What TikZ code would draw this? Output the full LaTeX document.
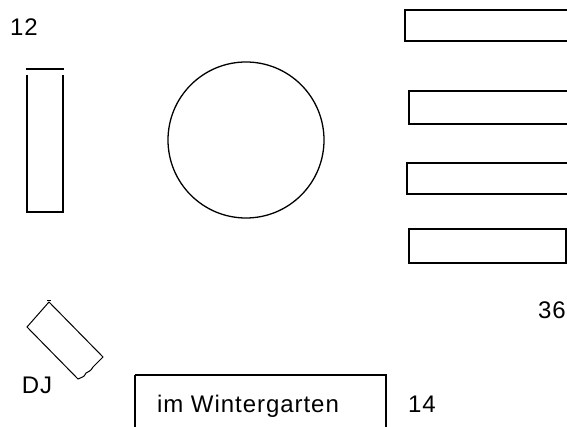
\documentclass[tikz,border=0pt]{standalone}
\usepackage{fontspec}
\setmainfont{Liberation Sans}[LetterSpace=4]
\begin{document}
\begin{tikzpicture}[x=1pt,y=-1pt,line width=1.3pt,
  lbl/.style={inner sep=0pt,font=\fontsize{24}{26}\selectfont}]
\useasboundingbox (0,0) rectangle (567,427);
\clip (0,0) rectangle (567,427);
% label 12
\node[lbl] (n12) at (24,27) {12};
% tall left table with detached top edge
\coordinate (lt1) at (26,69);
\coordinate (lt2) at (64,69);
\draw (lt1) -- (lt2);
\draw (27,75) -- (27,212) -- (63,212) -- (63,75);
% round table
\node[draw,circle,minimum size=156pt,inner sep=0pt] (round) at (246,140) {};
% right tables
\draw (405,10) rectangle (580,41);
\draw (409,91) rectangle (580,124);
\draw (407,163) rectangle (580,194);
\draw (409,229) rectangle (566,263);
\node[lbl] (n36) at (552,310) {36};
% DJ desk (rotated)
\draw[line width=1pt] (49,302) -- (103,357) -- (93,367)
  .. controls (91,371) and (88,372) .. (86,373)
  .. controls (84,378) and (81,377) .. (78,379)
  -- (27,327) -- cycle;
\draw[line width=1pt] (47,301) -- (51,301);
\node[lbl] (dj) at (37,385) {DJ};
% Wintergarten
\draw (135,375) -- (135,440);
\draw (135,375) -- (386,375) -- (386,440);
\node[lbl] (wg) at (248,406) {im Wintergarten};
\node[lbl] (n14) at (422,404) {14};
\end{tikzpicture}
\end{document}
